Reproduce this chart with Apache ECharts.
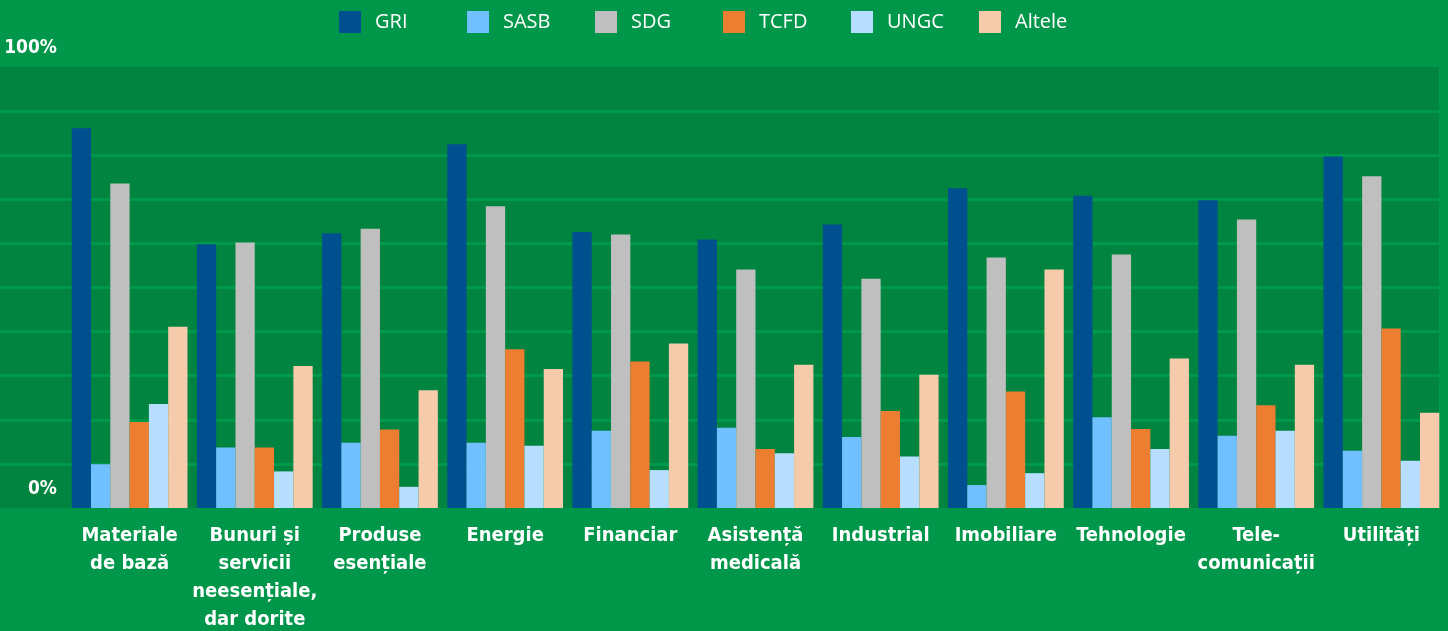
<!DOCTYPE html>
<html>
<head>
<meta charset="utf-8">
<script src="https://cdn.jsdelivr.net/npm/echarts@6/dist/echarts.min.js"></script>
<style>
  html, body { margin: 0; padding: 0; background: #00974a; }
  #chart { width: 1448px; height: 631px; }
</style>
</head>
<body>
<div id="chart"></div>
<script>
// sectoare
const categories = [
  "Materiale\nde bază",
  "Bunuri și\nservicii\nneesențiale,\ndar dorite",
  "Produse\nesențiale",
  "Energie",
  "Financiar",
  "Asistență\nmedicală",
  "Industrial",
  "Imobiliare",
  "Tehnologie",
  "Tele-\ncomunicații",
  "Utilități",
];

// procente
const gri    = [86.1, 59.8, 62.3, 82.5, 62.6, 60.9, 64.3, 72.5, 70.8, 69.8, 79.7];
const sasb   = [9.9, 13.7, 14.8, 14.8, 17.5, 18.2, 16.1, 5.2, 20.6, 16.4, 13.0];
const sdg    = [73.6, 60.2, 63.3, 68.4, 62.0, 54.1, 52.0, 56.8, 57.5, 65.4, 75.2];
const tcfd   = [19.5, 13.7, 17.8, 36.0, 33.2, 13.4, 22.0, 26.4, 17.9, 23.3, 40.7];
const ungc   = [23.6, 8.3, 4.8, 14.1, 8.6, 12.4, 11.7, 7.9, 13.4, 17.5, 10.7];
const altele = [41.1, 32.2, 26.7, 31.5, 37.3, 32.5, 30.2, 54.1, 33.9, 32.5, 21.6];

const yTickLabels = { 0: "0%", 100: "100%" };

const seriesList = [
  { name: "GRI", data: gri, color: "#00508f" },
  { name: "SASB", data: sasb, color: "#70bfff" },
  { name: "SDG", data: sdg, color: "#bfbfbf" },
  { name: "TCFD", data: tcfd, color: "#ed7d31" },
  { name: "UNGC", data: ungc, color: "#b8deff" },
  { name: "Altele", data: altele, color: "#f6cbac" },
];

const condensed = '"Liberation Sans Narrow", "DejaVu Sans Condensed", "Roboto Condensed", sans-serif';
const gridLine = "#00994c";

const chart = echarts.init(document.getElementById("chart"));

// o legendă pe element, ca să fie la distanțe egale
const legends = seriesList.map((s, i) => ({
  left: 339 + i * 128,
  top: 11,
  padding: 0,
  itemWidth: 22,
  itemHeight: 22,
  icon: "rect",
  data: [s.name],
  textStyle: {
    color: "#ffffff",
    fontFamily: '"Open Sans", sans-serif',
    fontSize: 20,
    padding: [0, 0, 0, 9],
  },
}));

const option = {
  backgroundColor: "#00974a",
  animation: false,
  legend: legends,
  grid: [
    // fundalul zonei de desen
    {
      left: 0, right: 9, top: 67, bottom: 123,
      outerBoundsMode: "none",
      show: true, backgroundColor: "#00843f", borderWidth: 0,
    },
    // barele
    { left: 67, right: 4, top: 67, bottom: 123, outerBoundsMode: "none" },
  ],
  xAxis: [
    { gridIndex: 0, type: "value", min: 0, max: 1, show: false },
    {
      gridIndex: 1,
      type: "category",
      data: categories,
      axisLine: { show: false },
      axisTick: { show: false },
      axisLabel: {
        interval: 0,
        margin: 14,
        color: "#ffffff",
        fontFamily: condensed,
        fontWeight: "bold",
        fontSize: 20,
        lineHeight: 28,
      },
    },
  ],
  yAxis: [
    {
      gridIndex: 0,
      type: "value",
      min: 0,
      max: 100,
      interval: 10,
      axisLine: { show: false },
      axisTick: { show: false },
      splitLine: {
        show: true,
        lineStyle: {
          width: 3,
          color: ["transparent", gridLine, gridLine, gridLine, gridLine, gridLine,
            gridLine, gridLine, gridLine, gridLine, "transparent"],
        },
      },
      axisLabel: {
        inside: true,
        margin: 57,
        align: "right",
        verticalAlign: "bottom",
        padding: [0, 0, 8, 0],
        color: "#ffffff",
        fontFamily: condensed,
        fontWeight: "bold",
        fontSize: 19,
        lineHeight: 22,
        formatter: (v) => yTickLabels[v] || "",
      },
    },
    { gridIndex: 1, type: "value", min: 0, max: 100, show: false },
  ],
  series: seriesList.map((s) => ({
    name: s.name,
    type: "bar",
    xAxisIndex: 1,
    yAxisIndex: 1,
    data: s.data,
    barGap: "0%",
    barCategoryGap: "7.5%",
    itemStyle: { color: s.color },
  })),
};

chart.setOption(option);
</script>
</body>
</html>
